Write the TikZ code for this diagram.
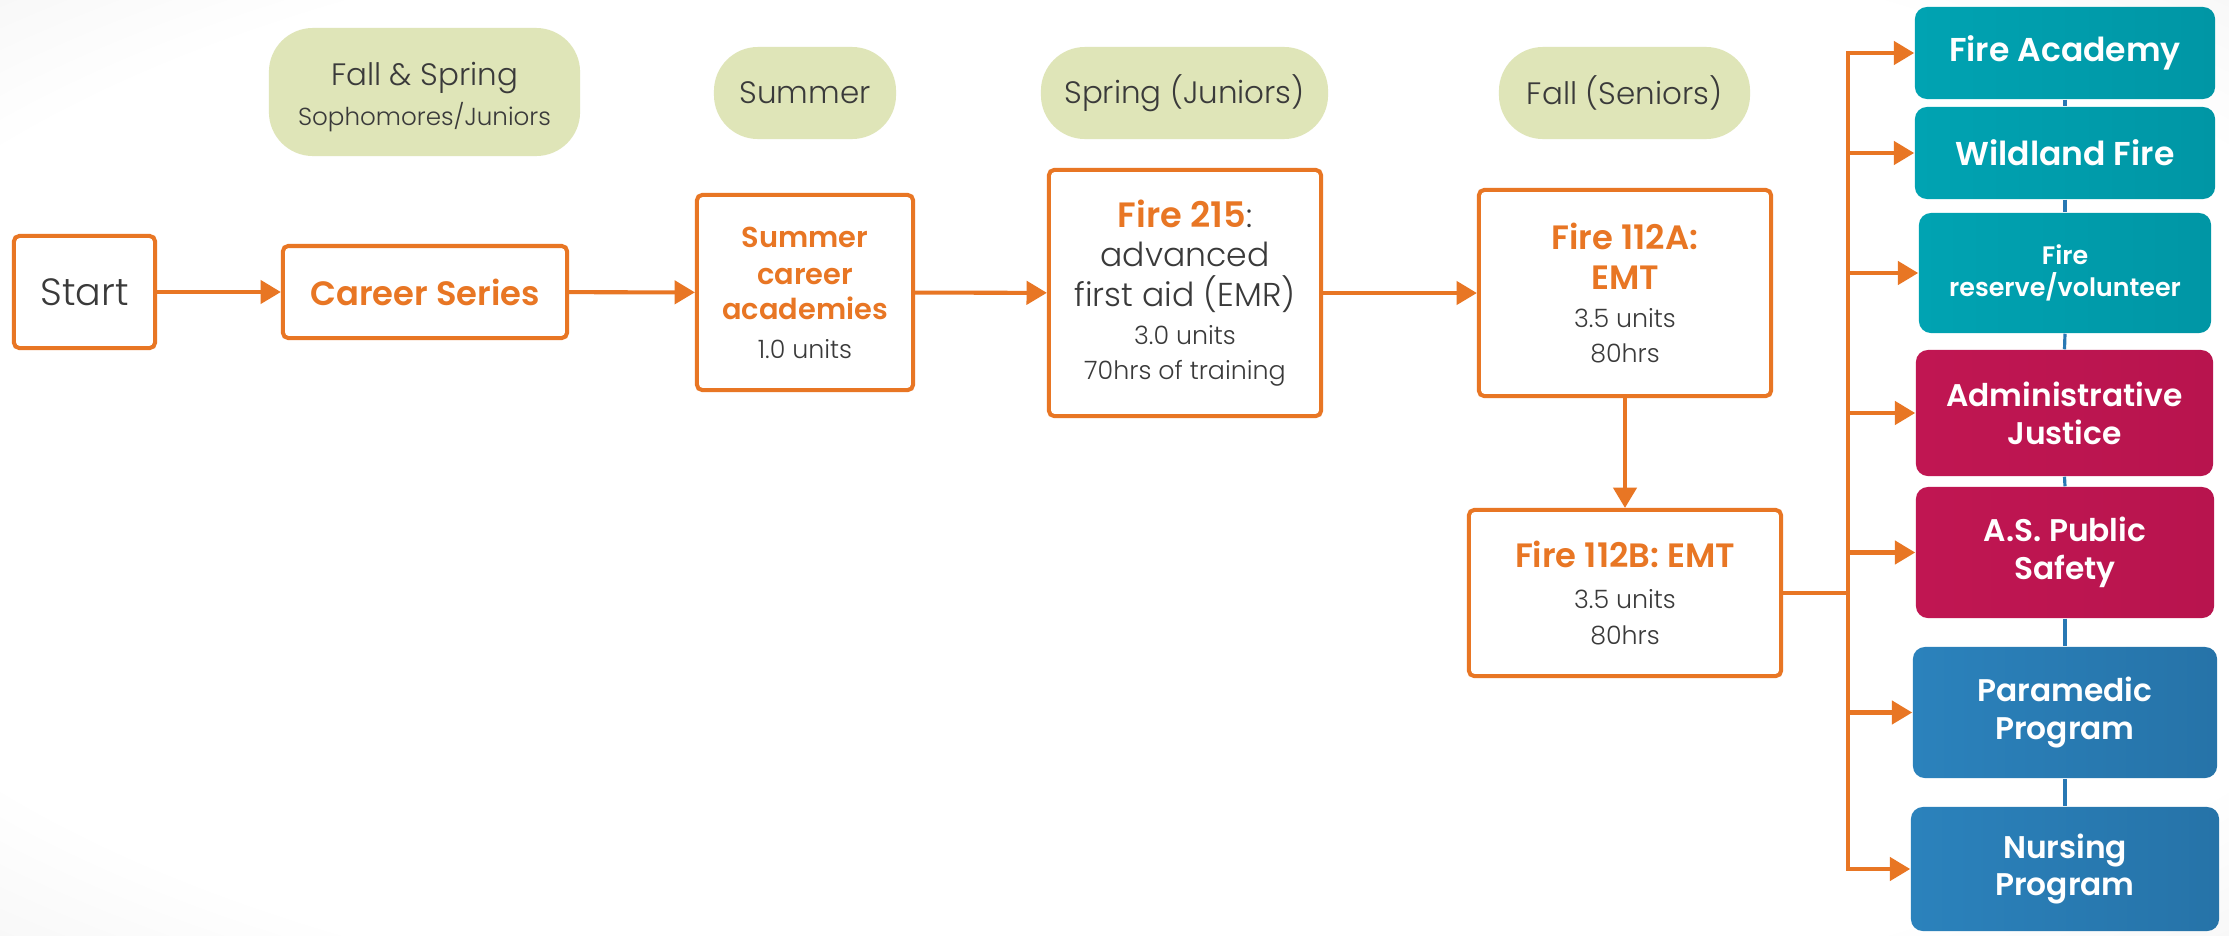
\documentclass[tikz,border=0pt]{standalone}
\usepackage{fontspec}
\IfFontExistsTF{Poppins SemiBold}{\setmainfont{Poppins}[BoldFont={Poppins SemiBold}]}{\setmainfont{Poppins}}
\IfFontExistsTF{Poppins Light}{\newfontfamily\lightfam{Poppins Light}}{%
 \IfFontExistsTF{Poppins-Light}{\newfontfamily\lightfam{Poppins-Light}}{%
  \IfFontExistsTF{Lato Light}{\newfontfamily\lightfam{Lato Light}}{%
   \IfFontExistsTF{Fira Sans Light}{\newfontfamily\lightfam{Fira Sans Light}}{%
    \IfFontExistsTF{Open Sans Light}{\newfontfamily\lightfam{Open Sans Light}}{%
     \newfontfamily\lightfam{Poppins}}}}}}
\usetikzlibrary{arrows.meta}
\definecolor{orng}{RGB}{232,118,36}
\definecolor{pillg}{RGB}{223,229,184}
\definecolor{dtext}{RGB}{58,58,58}
\definecolor{tealA}{RGB}{0,163,178}
\definecolor{tealB}{RGB}{0,150,165}
\definecolor{crimA}{RGB}{192,22,82}
\definecolor{crimB}{RGB}{184,20,78}
\definecolor{bluA}{RGB}{43,130,188}
\definecolor{bluB}{RGB}{38,115,168}
\definecolor{blinkc}{RGB}{40,120,180}
\pgfdeclareradialshading{vign}{\pgfpoint{0bp}{0bp}}{color(0bp)=(white); color(30bp)=(white); color(52bp)=(black!11); color(80bp)=(black!14)}
\newcommand\oB[1]{{\fontsize{9.6}{9.96}\selectfont\bfseries\color{orng}#1}}
\newcommand\oBb[1]{{\fontsize{10}{9.96}\selectfont\bfseries\color{orng}#1}}
\newcommand\oBs[1]{{\fontsize{8.2}{9.96}\selectfont\bfseries\color{orng}#1}}
\newcommand\dL[1]{{\fontsize{9.4}{9.96}\selectfont\lightfam\color{dtext}#1}}
\newcommand\dS[1]{{\fontsize{7.2}{9.96}\selectfont\lightfam\color{dtext}#1}}
\newcommand\txtR{\fontsize{8.9}{10.8}\selectfont\bfseries}
\newcommand\txtRb{\fontsize{9.4}{11}\selectfont\bfseries}
\newcommand\txtStart{\fontsize{10.8}{13}\selectfont\lightfam}
\newcommand\pA[1]{{\fontsize{8.8}{11.4}\selectfont\lightfam#1}}
\newcommand\pB[1]{{\fontsize{7}{11.4}\selectfont\lightfam#1}}
\begin{document}
\begin{tikzpicture}[x=0.01cm,y=-0.01cm,
  obox/.style={draw=orng, line width=1.15pt, rounded corners=1.5pt, fill=white, align=center, inner sep=0pt, text=dtext, font=\fontsize{7.2}{9.96}\selectfont},
  pill/.style={fill=pillg, rounded corners=0.44cm, align=center, inner sep=0pt, text=dtext, font=\fontsize{8.8}{11.4}\selectfont},
  rbox/.style={rounded corners=0.12cm, align=center, inner sep=0pt, text=white, font=\txtR},
  tealbox/.style={rbox, left color=tealA, right color=tealB},
  crimbox/.style={rbox, left color=crimA, right color=crimB},
  blubox/.style={rbox, left color=bluA, right color=bluB},
  conn/.style={draw=orng, line width=1.15pt, -{Triangle[length=5.8pt,width=6.6pt]}},
  plain/.style={draw=orng, line width=1.15pt},
  blink/.style={draw=blinkc, line width=0.9pt}]
\useasboundingbox (0,0) rectangle (2229,936);
\shade[shading=vign] (0,0) rectangle (2229,936);

% season pills
\node[pill, minimum width=3.11cm, minimum height=1.28cm] (p1) at (424.5,92) {\rule{0pt}{9.6pt}\pA{Fall \& Spring}\\\pB{Sophomores/Juniors}};
\node[pill, minimum width=1.82cm, minimum height=0.92cm] (p2) at (805,93) {\pA{Summer}};
\node[pill, minimum width=2.87cm, minimum height=0.92cm] (p3) at (1184.5,93) {\pA{Spring (Juniors)}};
\node[pill, minimum width=2.51cm, minimum height=0.92cm] (p4) at (1624.5,93) {\pA{Fall (Seniors)}};

% course boxes
\node[obox, minimum width=1.41cm, minimum height=1.12cm] (start) at (84.5,292) {\txtStart Start};
\node[obox, minimum width=2.84cm, minimum height=0.92cm] (career) at (425,292) {\oB{Career Series}};
\node[obox, minimum width=2.16cm, minimum height=1.95cm] (summer) at (805,292.5) {\oBs{Summer}\\[0.6pt]\oBs{career}\\\oBs{academies}\\[1.1pt]\dS{1.0 units}};
\node[obox, minimum width=2.72cm, minimum height=2.46cm] (f215) at (1185,293) {\oBb{Fire 215}\dL{:}\\[1.4pt]\dL{advanced}\\[1.4pt]\dL{first aid (EMR)}\\[0.8pt]\dS{3.0 units}\\\dS{70hrs of training}};
\node[obox, minimum width=2.92cm, minimum height=2.06cm] (f112a) at (1625,293) {\oB{Fire 112A:}\\[1.4pt]\oB{EMT}\\[0.8pt]\dS{3.5 units}\\\dS{80hrs}};
\node[obox, minimum width=3.12cm, minimum height=1.66cm] (f112b) at (1625,593) {\oB{Fire 112B: EMT}\\[1.7pt]\dS{3.5 units}\\[0.3pt]\dS{80hrs}};

% outcome boxes
\node[tealbox, minimum width=3.00cm, minimum height=0.92cm] (fa) at (2065,53) {\txtRb Fire Academy};
\node[tealbox, minimum width=3.00cm, minimum height=0.92cm] (wf) at (2065,153) {\txtRb Wildland Fire};
\node[tealbox, minimum width=2.92cm, minimum height=1.20cm, font=\fontsize{7.2}{8.9}\selectfont\bfseries] (fr) at (2065,273) {Fire\\reserve/volunteer};
\node[crimbox, minimum width=2.97cm, minimum height=1.26cm] (aj) at (2064.5,413) {Administrative\\Justice};
\node[crimbox, minimum width=2.98cm, minimum height=1.31cm] (ps) at (2065,552.5) {A.S. Public\\Safety};
\node[blubox, minimum width=3.04cm, minimum height=1.31cm] (pm) at (2065,712.5) {Paramedic\\Program};
\node[blubox, minimum width=3.08cm, minimum height=1.24cm] (np) at (2065,869) {Nursing\\Program};

% thin links between outcome boxes
\draw[blink] (fa.south) -- (wf.north);
\draw[blink] (wf.south) -- (fr.north);
\draw[blink] (fr.south) -- (aj.north);
\draw[blink] (aj.south) -- (ps.north);
\draw[blink] (ps.south) -- (pm.north);
\draw[blink] (pm.south) -- (np.north);

% main flow
\draw[conn] (start) -- (career);
\draw[conn] (career) -- (summer);
\draw[conn] (summer) -- (f215);
\draw[conn] (f215) -- (f112a);
\draw[conn] (f112a) -- (f112b);

% branching
\coordinate (tr) at (1848,593);
\draw[plain] (f112b.east) -- (tr);
\foreach \t in {fa,wf,fr,aj,ps,pm,np}{
  \draw[conn] (tr) |- (\t.west);
}
\end{tikzpicture}
\end{document}
